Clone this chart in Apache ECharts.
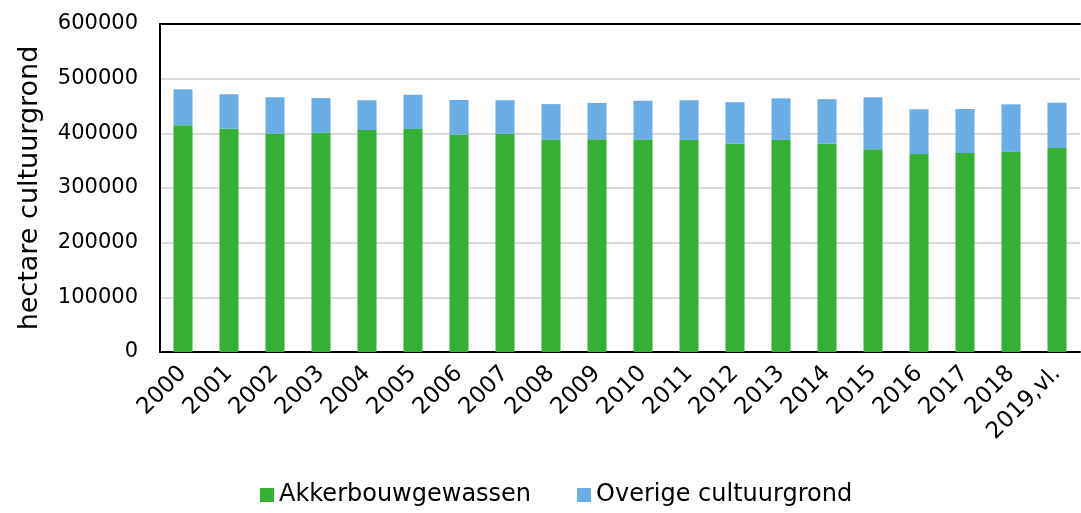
<!DOCTYPE html>
<html>
<head>
<meta charset="utf-8">
<script src="https://cdn.jsdelivr.net/npm/echarts@6/dist/echarts.min.js"></script>
<style>
  html, body { margin: 0; padding: 0; background: #fff; }
  #chart { width: 1081px; height: 513px; }
</style>
</head>
<body>
<div id="chart"></div>
<script>
const years = ['2000', '2001', '2002', '2003', '2004', '2005', '2006', '2007', '2008', '2009',
  '2010', '2011', '2012', '2013', '2014', '2015', '2016', '2017', '2018', '2019,vl.'];
const akkerbouw = [415000, 408500, 399500, 401000, 406000, 408000, 397500, 399000, 388500, 389000,
  388500, 388000, 381000, 388000, 381000, 371000, 362000, 364000, 366000, 373000];
const overige = [65500, 63000, 66500, 63500, 54500, 62500, 63500, 61500, 65000, 66500,
  71000, 72500, 76000, 76000, 81500, 95000, 82000, 80500, 87000, 83000];

const font = 'DejaVu Sans';
let chart = echarts.init(document.getElementById('chart'));
let option = {
  animation: false,
  textStyle: { fontFamily: font },
  grid: { left: 160, right: 1, top: 24, bottom: 161 },
  legend: {
    bottom: 1,
    left: 255,
    itemWidth: 14,
    itemHeight: 14,
    itemGap: 46,
    icon: 'rect',
    textStyle: { fontSize: 24, color: '#000', fontFamily: font },
    data: ['Akkerbouwgewassen', 'Overige cultuurgrond']
  },
  xAxis: [{
    type: 'category',
    data: years,
    axisLine: { lineStyle: { color: '#000', width: 2 } },
    axisTick: { show: false },
    axisLabel: { rotate: 45, fontSize: 23, color: '#000', margin: 18, interval: 0 }
  }, {
    type: 'category',
    position: 'top',
    data: years,
    axisLine: { lineStyle: { color: '#000', width: 2 } },
    axisTick: { show: false },
    axisLabel: { show: false }
  }],
  yAxis: {
    type: 'value',
    min: 0,
    max: 600000,
    interval: 100000,
    name: 'hectare cultuurgrond',
    nameLocation: 'middle',
    nameGap: 117,
    nameTextStyle: { fontSize: 27, color: '#000' },
    axisLine: { show: true, lineStyle: { color: '#000', width: 2 } },
    axisTick: { show: false },
    axisLabel: { fontSize: 21, color: '#000', margin: 22, formatter: v => String(v) },
    splitLine: { lineStyle: { color: '#d9d9d9', width: 2 } }
  },
  series: [{
    name: 'Akkerbouwgewassen',
    type: 'bar',
    stack: 'total',
    barWidth: 19,
    data: akkerbouw,
    itemStyle: { color: '#35b035' }
  }, {
    name: 'Overige cultuurgrond',
    type: 'bar',
    stack: 'total',
    barWidth: 19,
    data: overige,
    itemStyle: { color: '#6aace4' }
  }]
};
chart.setOption(option);
</script>
</body>
</html>
